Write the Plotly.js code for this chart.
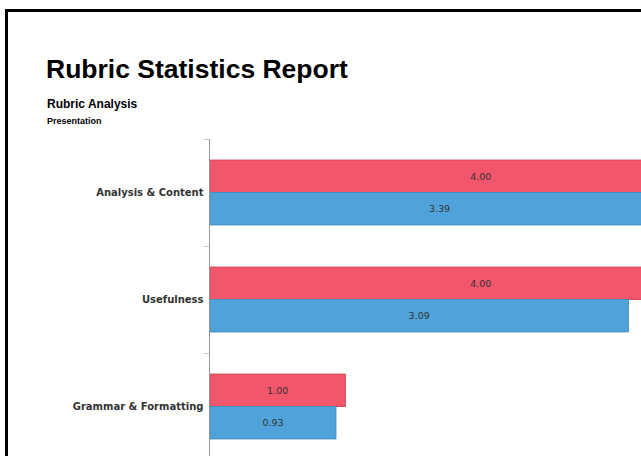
<!DOCTYPE html>
<html>
<head>
<meta charset="utf-8">
<script src="https://cdn.plot.ly/plotly-3.0.1.min.js"></script>
<style>
html, body { margin:0; padding:0; overflow:hidden; width:641px; height:456px; background:#fff; }
#frame { position:absolute; left:5px; top:9px; width:700px; height:500px; border-top:3px solid #000; border-left:3px solid #000; pointer-events:none; z-index:5; }
#chart { position:absolute; left:0; top:0; }
</style>
</head>
<body>
<div id="chart"></div>
<div id="frame"></div>
<script>
const categories = ["Analysis & Content", "Usefulness", "Grammar & Formatting"];
const seriesRed = [4.00, 4.00, 1.00];
const seriesBlue = [3.39, 3.09, 0.93];
const labelsRed = seriesRed.map(v => v.toFixed(2));
const labelsBlue = seriesBlue.map(v => v.toFixed(2));

const W = 900, H = 470;
const ML = 210, MT = 138.5, MB = 9.5;
const pxPerUnit = 135.5, xMax = 5;
const MR = W - ML - xMax * pxPerUnit;

const textFont = {family: "DejaVu Sans", size: 9.5, color: "#333"};

const traces = [
  {
    type: "bar", orientation: "h", y: categories, x: seriesRed,
    text: labelsRed, textposition: "inside", insidetextanchor: "middle",
    textangle: 0, constraintext: "none", insidetextfont: textFont,
    marker: {color: "#F2566B", line: {color: "#D44A5C", width: 1}},
    hoverinfo: "none"
  },
  {
    type: "bar", orientation: "h", y: categories, x: seriesBlue,
    text: labelsBlue, textposition: "inside", insidetextanchor: "middle",
    textangle: 0, constraintext: "none", insidetextfont: textFont,
    marker: {color: "#4FA3DA", line: {color: "#4590C2", width: 1}},
    hoverinfo: "none"
  }
];

const layout = {
  width: W, height: H,
  margin: {l: ML, r: MR, t: MT, b: MB, pad: 0},
  paper_bgcolor: "#fff", plot_bgcolor: "#fff",
  showlegend: false,
  barmode: "group", bargap: 0.394, bargroupgap: 0,
  title: {
    text: "<b>Rubric Statistics Report</b>",
    font: {family: "Liberation Sans", size: 26.5, color: "#000"},
    xref: "container", yref: "container",
    x: 46 / W, xanchor: "left",
    y: 1 - 59.5 / H, yanchor: "top"
  },
  xaxis: {
    range: [0, xMax], showgrid: false, zeroline: false,
    showline: false, showticklabels: false, ticks: ""
  },
  yaxis: {
    type: "category", autorange: "reversed",
    showgrid: false, zeroline: false,
    showline: true, linecolor: "#999", linewidth: 1.5,
    ticks: "outside", tickson: "boundaries", ticklen: 5, tickcolor: "#ccc", tickwidth: 1,
    ticklabelstandoff: 3,
    tickfont: {family: "DejaVu Sans", size: 10, color: "#333", weight: "bold"}
  },
  annotations: [
    {
      text: "<b>Rubric Analysis</b>", showarrow: false,
      xref: "paper", yref: "paper",
      x: (45 - ML) / (W - ML - MR), xanchor: "left",
      y: (H - MB - 94) / (H - MT - MB), yanchor: "top",
      font: {family: "Liberation Sans", size: 12, color: "#000"}
    },
    {
      text: "<b>Presentation</b>", showarrow: false,
      xref: "paper", yref: "paper",
      x: (45 - ML) / (W - ML - MR), xanchor: "left",
      y: (H - MB - 113) / (H - MT - MB), yanchor: "top",
      font: {family: "Liberation Sans", size: 9, color: "#000"}
    }
  ]
};

Plotly.newPlot("chart", traces, layout, {staticPlot: true, displayModeBar: false});
</script>
</body>
</html>
